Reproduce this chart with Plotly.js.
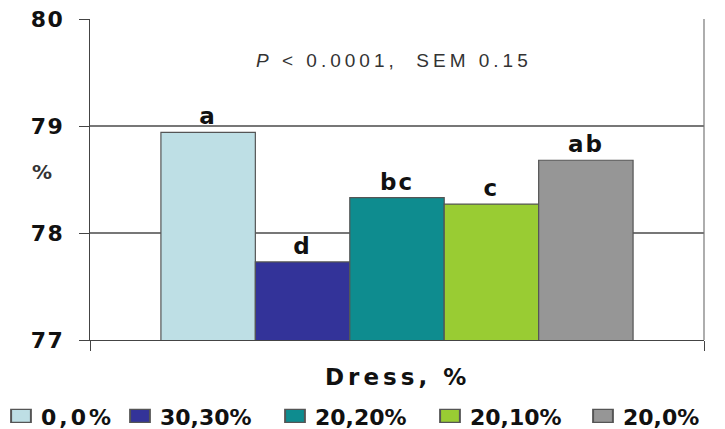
<!DOCTYPE html>
<html>
<head>
<meta charset="utf-8">
<script src="https://cdn.plot.ly/plotly-3.0.1.min.js"></script>
<style>
html,body{margin:0;padding:0;background:#fff;}
#chart{width:725px;height:429px;}
.legendtext{letter-spacing:3px;}
.ytick text{letter-spacing:1.5px;}
.annotation-text{letter-spacing:4px;}
.bartext{letter-spacing:2px;}
.legendpoints path{transform:translate(20px,0px) scale(1.65,1.08);}
</style>
</head>
<body>
<div id="chart"></div>
<script>
const treatments = ["0,0%", "30,30%", "20,20%", "20,10%", "20,0%"];
const values = [78.94, 77.73, 78.33, 78.27, 78.68];
const letters = ["a", "d", "bc", "c", "ab"];
const colors = ["#BEDFE5", "#333399", "#0E8C8F", "#99CC33", "#969696"];
const yTicks = [77, 78, 79, 80];
const legendLeftPx = [1, 120, 275, 430, 583];

const BOLD = "DejaVu Sans, Arial, sans-serif";
const legendIds = treatments.map((t, i) => i === 0 ? "legend" : "legend" + (i + 1));

const traces = treatments.map((t, i) => ({
  type: "bar",
  name: t,
  legend: legendIds[i],
  x: [0],
  y: [values[i]],
  text: [letters[i]],
  textposition: "outside",
  cliponaxis: false,
  textfont: {family: BOLD, size: 23, color: "#111", weight: "bold"},
  marker: {color: colors[i], line: {color: "#555", width: 1.2}},
  hoverinfo: "skip"
}));

const layout = {
  width: 725, height: 429,
  margin: {l: 90, r: 21, t: 19, b: 89, autoexpand: false},
  paper_bgcolor: "#fff", plot_bgcolor: "#fff",
  barmode: "group", bargap: 0.231, bargroupgap: 0,
  showlegend: true,
  xaxis: {range: [-0.5, 0.5], tickvals: [-0.5, 0.5], ticktext: ["", ""], ticks: "outside", ticklen: 10,
    tickcolor: "#444", showgrid: false, zeroline: false, showline: true, linecolor: "#444", linewidth: 1.2},
  yaxis: {range: [77, 80], tickvals: yTicks, ticktext: yTicks.map(String), ticks: "outside", ticklen: 10,
    tickcolor: "#444", showgrid: true, gridcolor: "#777", gridwidth: 1.2, zeroline: false,
    showline: true, linecolor: "#444", linewidth: 1.2, ticklabelstandoff: 10,
    tickfont: {family: BOLD, size: 22, color: "#111", weight: "bold"}},
  shapes: [{type: "line", xref: "paper", yref: "paper", x0: 1, x1: 1, y0: 0, y1: 1, line: {color: "#777", width: 1.2}}],
  annotations: [
    {xref: "paper", yref: "paper", x: 0.495, y: 0.91, showarrow: false,
     text: "<i>P</i> < 0.0001,  SEM 0.15",
     font: {family: "Liberation Sans, Arial, sans-serif", size: 19, color: "#333"}},
    {xref: "paper", yref: "paper", x: -0.097, y: 0.523, showarrow: false,
     text: "%", font: {family: BOLD, size: 20, color: "#333", weight: "bold"}},
    {xref: "paper", yref: "paper", x: 0.5, y: -0.162, showarrow: false,
     text: "Dress, %", font: {family: BOLD, size: 23, color: "#111", weight: "bold"}}
  ]
};
legendIds.forEach((id, i) => {
  layout[id] = {orientation: "h", xref: "container", yref: "container",
    x: legendLeftPx[i] / 725, xanchor: "left", y: 0.03, yanchor: "middle",
    bgcolor: "rgba(0,0,0,0)", borderwidth: 0,
    font: {family: BOLD, size: 22, color: "#111", weight: "bold"}, itemwidth: 30};
});

Plotly.newPlot("chart", traces, layout, {displayModeBar: false, staticPlot: true});
</script>
</body>
</html>
